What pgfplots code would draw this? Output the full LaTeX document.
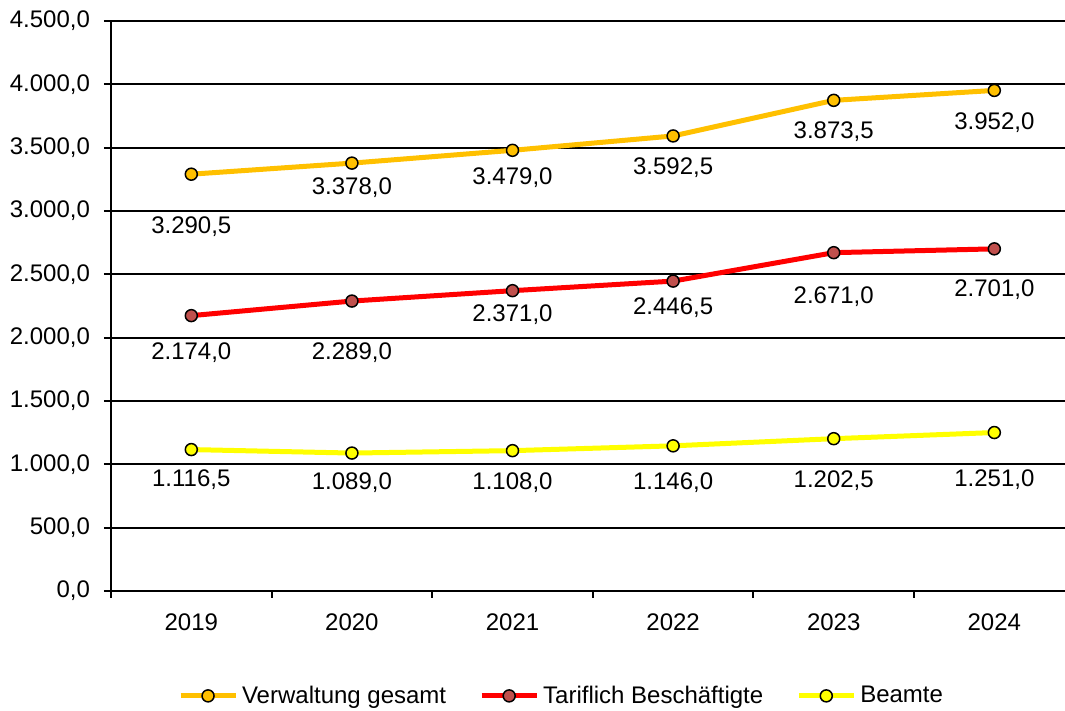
\documentclass[border=0pt]{standalone}
\usepackage{pgfplots}
\pgfplotsset{compat=1.18}
\usepackage{fontspec}
\setmainfont{Liberation Sans}
\definecolor{cOrange}{HTML}{FFC000}
\definecolor{cRed}{HTML}{FF0000}
\definecolor{cRedMark}{HTML}{C0504D}
\definecolor{cYellow}{HTML}{FFFF00}
\newcommand{\f}{\fontsize{12}{14.4}\selectfont}
\begin{document}
\begin{tikzpicture}
\begin{axis}[
  scale only axis,
  width=477pt, height=285pt,
  xmin=-0.5, xmax=5.44,
  ymin=0, ymax=4500,
  axis x line*=bottom, axis y line*=left,
  axis line style={line width=1pt, black, -},
  xtick={-0.5,0.5,1.5,2.5,3.5,4.5},
  xticklabels={2019,2020,2021,2022,2023,2024},
  xticklabel style={xshift=40.15pt, yshift=-4.5pt, font=\f},
  ytick={0,500,...,4500},
  yticklabel style={xshift=-3.5pt, font=\f},
  /pgf/number format/.cd, fixed, fixed zerofill, precision=1, use comma, 1000 sep={.}, assume math mode=true,
  /pgfplots/.cd,
  tick align=outside,
  major tick length=3.5pt,
  tick style={line width=1pt, black},
  ymajorgrids,
  grid style={line width=1pt, black},
  legend style={draw=none, font=\f, at={(axis description cs:0.4733,-0.184)}, anchor=center,
    /tikz/every even column/.append style={column sep=14.5pt}},
  legend columns=3,
  legend cell align=left,
  legend image code/.code={\draw[mark repeat=2,mark phase=2] plot coordinates {(0pt,0pt) (13.75pt,0pt) (27.5pt,0pt)};},
  every axis plot/.append style={line width=2.5pt, mark=*, mark size=3pt},
  clip=false,
]
\addplot[color=cOrange, mark options={line width=0.75pt, draw=black, fill=cOrange}] coordinates {(0,3290.5) (1,3378) (2,3479) (3,3592.5) (4,3873.5) (5,3952)};
\addlegendentry{Verwaltung gesamt}
\addplot[color=cRed, mark options={line width=0.75pt, draw=black, fill=cRedMark}] coordinates {(0,2174) (1,2289) (2,2371) (3,2446.5) (4,2671) (5,2701)};
\addlegendentry{Tariflich Beschäftigte}
\addplot[color=cYellow, mark options={line width=0.75pt, draw=black, fill=cYellow}] coordinates {(0,1116.5) (1,1089) (2,1108) (3,1146) (4,1202.5) (5,1251)};
\addlegendentry{Beamte}

\begin{scope}[every node/.style={font=\f}]
\node at (axis cs:0,2874) {3.290,5};
\node at (axis cs:1,3182) {3.378,0};
\node at (axis cs:2,3261) {3.479,0};
\node at (axis cs:3,3339) {3.592,5};
\node at (axis cs:4,3624) {3.873,5};
\node at (axis cs:5,3695) {3.952,0};
\node at (axis cs:0,1879) {2.174,0};
\node at (axis cs:1,1879) {2.289,0};
\node at (axis cs:2,2179) {2.371,0};
\node at (axis cs:3,2234) {2.446,5};
\node at (axis cs:4,2321) {2.671,0};
\node at (axis cs:5,2376) {2.701,0};
\node at (axis cs:0,876) {1.116,5};
\node at (axis cs:1,853) {1.089,0};
\node at (axis cs:2,853) {1.108,0};
\node at (axis cs:3,853) {1.146,0};
\node at (axis cs:4,868) {1.202,5};
\node at (axis cs:5,876) {1.251,0};
\end{scope}
\end{axis}
\pgfresetboundingbox
\path (-55.5pt,-60pt) rectangle (477pt,295.5pt);
\end{tikzpicture}
\end{document}
